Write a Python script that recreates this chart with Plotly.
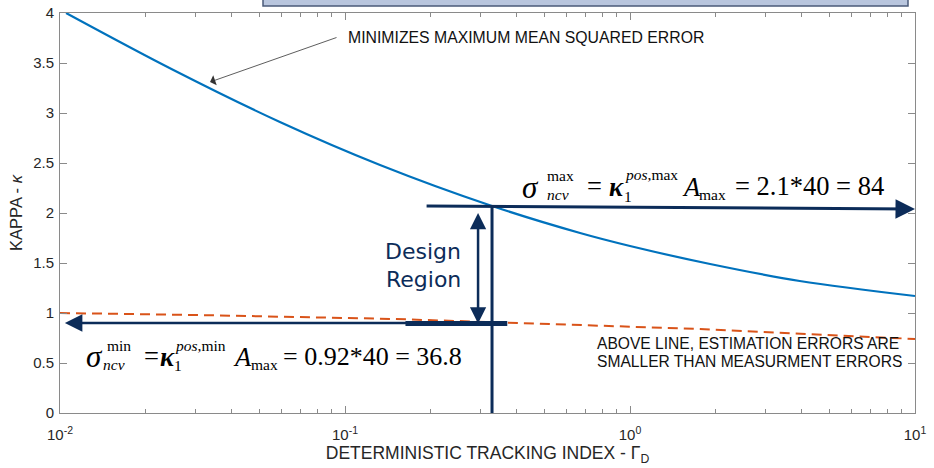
import numpy as np
import plotly.graph_objects as go

# ---------------- data ----------------
gamma_d = [0.0105, 0.025, 0.0591, 0.1327, 0.328, 0.668, 1.0, 1.91, 3.94, 10.0]
kappa_mmse = [4.00, 3.43, 2.91, 2.48, 2.07, 1.80, 1.67, 1.49, 1.32, 1.17]

gamma_unity = [0.0100, 0.03, 0.15, 0.546, 1.76, 10.0]
kappa_unity = [1.00, 0.98, 0.94, 0.89, 0.84, 0.74]

x_tickvals = [0.01, 0.1, 1, 10]
x_ticktext = ["10<sup>-2</sup>", "10<sup>-1</sup>", "10<sup>0</sup>", "10<sup>1</sup>"]
y_tickvals = [0, 0.5, 1, 1.5, 2, 2.5, 3, 3.5, 4]
y_ticktext = ["0", "0.5", "1", "1.5", "2", "2.5", "3", "3.5", "4"]

# design-region construction (data units)
upper_arrow_x = [0.191, 10.0]
upper_arrow_y = [2.07, 2.04]
lower_arrow_x = [0.371, 0.0104]
lower_arrow_y = [0.90, 0.90]
region_arrow_x = [0.293, 0.293]
region_arrow_y = [0.88, 2.00]
design_line_x = [0.328, 0.328]
design_line_y = [2.07, 0.0]
bar_x = [0.163, 0.371]
bar_y = [0.895, 0.895]
note_arrow_x = [0.0945, 0.0336]
note_arrow_y = [3.76, 3.31]

NAVY = "#0c2c59"
BLUE = "#0072BD"
ORANGE = "#D95319"
AXC = "#8a8a8a"
TXT = "#262626"

# figure geometry (pixels)
W, H = 934, 468
ML, MR, MT, MB = 60, 19, 13, 55
PW = W - ML - MR
PH = H - MT - MB


def px(x):
    return (x - ML) / PW


def py(y):
    return (H - MB - y) / PH


fig = go.Figure()
fig.add_trace(go.Scatter(x=gamma_unity, y=kappa_unity, mode="lines",
                         line=dict(color=ORANGE, width=2, dash="10px,6px"),
                         hoverinfo="skip"))
fig.add_trace(go.Scatter(x=gamma_d, y=kappa_mmse, mode="lines",
                         line=dict(color=BLUE, width=2.2, shape="spline", smoothing=1.0),
                         hoverinfo="skip"))
fig.add_trace(go.Scatter(x=design_line_x, y=design_line_y, mode="lines",
                         line=dict(color=NAVY, width=3), hoverinfo="skip"))
fig.add_trace(go.Scatter(x=bar_x, y=bar_y, mode="lines",
                         line=dict(color=NAVY, width=5), hoverinfo="skip"))

ann = []


def arrow(xs, ys, width, size, head=2, side="end", color=NAVY):
    ann.append(dict(x=np.log10(xs[1]), y=ys[1], ax=np.log10(xs[0]), ay=ys[0],
                    xref="x", yref="y", axref="x", ayref="y", text="",
                    showarrow=True, arrowhead=head, startarrowhead=head,
                    arrowsize=size, startarrowsize=size, arrowwidth=width,
                    arrowcolor=color, arrowside=side, standoff=0, startstandoff=0))


arrow(upper_arrow_x, upper_arrow_y, 3, 1.3)
arrow(lower_arrow_x, lower_arrow_y, 2.5, 1.4)
arrow(region_arrow_x, region_arrow_y, 2.5, 1.3, side="end+start")
arrow(note_arrow_x, note_arrow_y, 0.8, 2.2, head=1, color="#333333")


def txt(x, y, s, size, family="Liberation Serif", color="black", xanchor="left"):
    ann.append(dict(x=px(x), y=py(y), xref="paper", yref="paper", text=s,
                    showarrow=False, xanchor=xanchor, yanchor="middle",
                    borderpad=0,
                    font=dict(family=family, size=size, color=color)))


MAIN, SCR = 26.5, 15.5
# upper equation
txt(521, 187, "<i>σ</i>", 31)
txt(546, 175, "max", SCR)
txt(546, 195, "<i>ncv</i>", SCR)
txt(586, 186, "=", MAIN)
txt(608, 187, "<b><i>κ</i></b>", MAIN)
txt(623, 196, "1", SCR)
txt(624, 174, "<i>pos</i>,max", SCR)
txt(681, 187, "<i>A</i>", MAIN)
txt(698, 195, "max", SCR)
txt(734, 186, "= 2.1*40 = 84", MAIN)
# lower equation
txt(85, 356, "<i>σ</i>", 31)
txt(106, 345, "min", SCR)
txt(102, 364, "<i>ncv</i>", SCR)
txt(143, 356, "=", MAIN)
txt(159, 357, "<b><i>κ</i></b>", MAIN)
txt(173, 365, "1", SCR)
txt(174, 345, "<i>pos</i>,min", SCR)
txt(232, 357, "<i>A</i>", MAIN)
txt(250, 364, "max", SCR)
txt(282, 356, "= 0.92*40 = 36.8", 26)

# design region label
txt(423, 252, "Design", 22, family="DejaVu Sans", color=NAVY, xanchor="center")
txt(423, 279, "Region", 22, family="DejaVu Sans", color=NAVY, xanchor="center")

# notes
txt(347, 37, "MINIMIZES MAXIMUM MEAN SQUARED ERROR", 15.8, family="Liberation Sans", color="#111111")
txt(596, 343, "ABOVE LINE, ESTIMATION ERRORS ARE", 15.6, family="Liberation Sans", color="#111111")
txt(596, 361, "SMALLER THAN MEASURMENT ERRORS", 15.6, family="Liberation Sans", color="#111111")

shapes = [dict(type="rect", xref="paper", yref="paper",
               x0=px(263), x1=px(908), y0=py(6), y1=py(-5),
               fillcolor="#b9c6de", line=dict(color="#4b5b7a", width=1.5))]

minor_vals = [m * 10.0 ** e for e in (-2, -1, 0) for m in range(2, 10)]

fig.update_layout(
    template="none",
    width=W, height=H,
    margin=dict(l=ML, r=MR, t=MT, b=MB, autoexpand=False),
    paper_bgcolor="white", plot_bgcolor="white",
    showlegend=False,
    annotations=ann, shapes=shapes,
    font=dict(family="Liberation Sans", color=TXT),
    xaxis=dict(type="log", range=[-2, 1], tickmode="array", automargin=False,
               tickvals=x_tickvals, ticktext=x_ticktext,
               ticks="inside", ticklen=7, tickcolor=AXC, tickwidth=1,
               showline=True, linecolor=AXC, linewidth=1, mirror="ticks",
               showgrid=False, zeroline=False,
               tickfont=dict(size=15, color=TXT), ticklabelstandoff=8,
               minor=dict(tickmode="array", tickvals=minor_vals, ticks="inside",
                          ticklen=4, tickcolor=AXC, showgrid=False),
               title=dict(text="DETERMINISTIC TRACKING INDEX - Γ<sub>D</sub>",
                          font=dict(size=17.5, color=TXT), standoff=2)),
    yaxis=dict(range=[0, 4], tickmode="array", tickvals=y_tickvals, ticktext=y_ticktext,
               automargin=False,
               ticks="inside", ticklen=7, tickcolor=AXC, tickwidth=1,
               showline=True, linecolor=AXC, linewidth=1, mirror="ticks",
               showgrid=False, zeroline=False,
               tickfont=dict(size=15, color=TXT), ticklabelstandoff=2,
               title=dict(text="KAPPA - <i>κ</i>", font=dict(size=16.5, color=TXT), standoff=6)),
)

fig.write_html("out.html")
